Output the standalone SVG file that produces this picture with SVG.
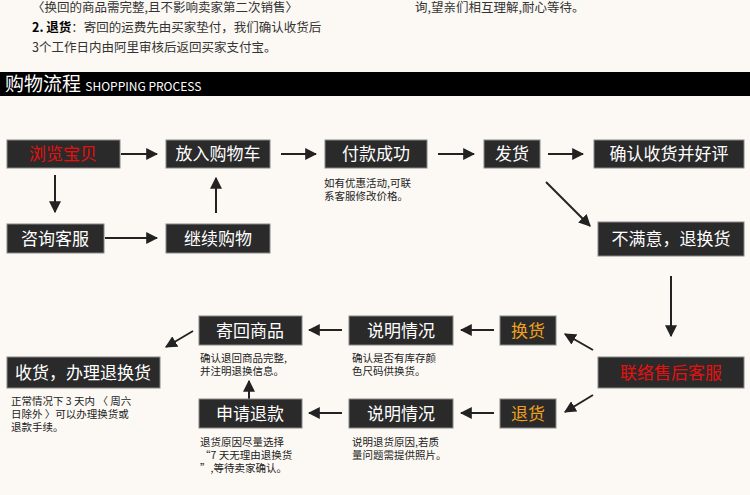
<svg xmlns="http://www.w3.org/2000/svg" width="750" height="495" viewBox="0 0 750 495">
<style>
.b{fill:#2a2a2a;stroke:#888;stroke-width:1}
.t{font-family:"Noto Sans CJK SC",sans-serif;font-size:17px;fill:#fff;text-anchor:middle}
.n{font-family:"Noto Sans CJK SC",sans-serif;font-size:10.5px;fill:#222}
.h{font-family:"Noto Sans CJK SC",sans-serif;font-size:12.5px;fill:#333}
.c{stroke:#222;stroke-width:2;fill:none;marker-end:url(#a)}
</style>
<defs><marker id="a" viewBox="0 0 10 10" refX="9" refY="5" markerWidth="6" markerHeight="6" orient="auto"><path d="M0,0L10,5L0,10z" fill="#222"/></marker></defs>
<rect width="750" height="495" fill="#fcf9f4"/>
<text class="h" x="32" y="12">〈换回的商品需完整,且不影响卖家第二次销售〉</text>
<text class="h" x="415" y="12">询,望亲们相互理解,耐心等待。</text>
<text class="h" x="32" y="32"><tspan font-weight="bold" fill="#000">2. 退货</tspan>：寄回的运费先由买家垫付，我们确认收货后</text>
<text class="h" x="32" y="52">3个工作日内由阿里审核后返回买家支付宝。</text>
<rect x="0" y="72" width="750" height="24" fill="#000"/>
<text x="5" y="91" font-family="Noto Sans CJK SC,sans-serif" font-size="19" fill="#fff">购物流程 <tspan font-size="12">SHOPPING PROCESS</tspan></text>
<g id="connectors">
<path class="c" d="M121,154H157"/><path class="c" d="M281,154H316"/><path class="c" d="M438,154H474"/><path class="c" d="M548,154H583"/>
<path class="c" d="M105,238H157"/><path class="c" d="M55,175V212"/><path class="c" d="M216,213V178"/>
<path class="c" d="M546,182L590,226"/><path class="c" d="M671,276V336"/>
<path class="c" d="M593,350L565,334"/><path class="c" d="M593,395L565,412"/>
<path class="c" d="M494,330H461"/><path class="c" d="M494,413H461"/>
<path class="c" d="M342,330H309"/><path class="c" d="M342,413H309"/>
<path class="c" d="M249,399V381"/><path class="c" d="M193,331L166,347"/>
</g>
<g id="n1"><rect class="b" x="7" y="140" width="113" height="28"/><text class="t" x="63" y="160" style="fill:#e51010">浏览宝贝</text></g>
<g id="n2"><rect class="b" x="166" y="140" width="104" height="28"/><text class="t" x="218" y="160">放入购物车</text></g>
<g id="n3"><rect class="b" x="325" y="140" width="102" height="28"/><text class="t" x="376" y="160">付款成功</text><text class="n" x="324" y="187">如有优惠活动,可联</text><text class="n" x="324" y="200">系客服修改价格。</text></g>
<g id="n4"><rect class="b" x="484" y="140" width="56" height="28"/><text class="t" x="512" y="160">发货</text></g>
<g id="n5"><rect class="b" x="594" y="140" width="150" height="28"/><text class="t" x="669" y="160">确认收货并好评</text></g>
<g id="n6"><rect class="b" x="7" y="224" width="97" height="29"/><text class="t" x="55" y="245">咨询客服</text></g>
<g id="n7"><rect class="b" x="166" y="224" width="104" height="29"/><text class="t" x="218" y="245">继续购物</text></g>
<g id="n8"><rect class="b" x="598" y="222" width="146" height="34"/><text class="t" x="671" y="245">不满意，退换货</text></g>
<g id="n9"><rect class="b" x="598" y="357" width="146" height="31"/><text class="t" x="671" y="379" style="fill:#e51010">联络售后客服</text></g>
<g id="n10"><rect class="b" x="500" y="316" width="56" height="29"/><text class="t" x="528" y="337" style="fill:#f0a020">换货</text></g>
<g id="n11"><rect class="b" x="500" y="399" width="56" height="29"/><text class="t" x="528" y="420" style="fill:#f0a020">退货</text></g>
<g id="n12"><rect class="b" x="349" y="316" width="104" height="29"/><text class="t" x="401" y="337">说明情况</text><text class="n" x="352" y="362">确认是否有库存颜</text><text class="n" x="352" y="375">色尺码供换货。</text></g>
<g id="n13"><rect class="b" x="349" y="399" width="104" height="29"/><text class="t" x="401" y="420">说明情况</text><text class="n" x="352" y="446">说明退货原因,若质</text><text class="n" x="352" y="459">量问题需提供照片。</text></g>
<g id="n14"><rect class="b" x="199" y="316" width="103" height="29"/><text class="t" x="250" y="337">寄回商品</text><text class="n" x="200" y="362">确认退回商品完整,</text><text class="n" x="200" y="375">并注明退换信息。</text></g>
<g id="n15"><rect class="b" x="199" y="399" width="103" height="29"/><text class="t" x="250" y="420">申请退款</text><text class="n" x="200" y="446">退货原因尽量选择</text><text class="n" x="200" y="459">“7 天无理由退换货</text><text class="n" x="200" y="472">”,等待卖家确认。</text></g>
<g id="n16"><rect class="b" x="7" y="357" width="153" height="31"/><text class="t" x="83" y="379">收货，办理退换货</text><text class="n" x="11" y="405">正常情况下 3 天内 〈 周六</text><text class="n" x="11" y="418">日除外 〉可以办理换货或</text><text class="n" x="11" y="431">退款手续。</text></g>
</svg>
